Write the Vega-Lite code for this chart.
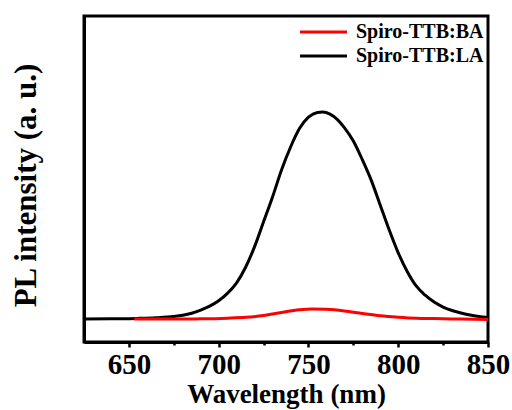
{
  "$schema": "https://vega.github.io/schema/vega-lite/v6.json",
  "width": 404,
  "height": 326,
  "autosize": {"type": "none"},
  "padding": {"left": 84, "top": 16, "right": 24, "bottom": 68},
  "background": "white",
  "config": {
    "view": {"stroke": "black", "strokeWidth": 3},
    "font": "Liberation Serif"
  },
  "resolve": {"axis": {"x": "independent"}},
  "data": {
    "values": [
      {"series": "Spiro-TTB:LA", "wl": 625, "v": 0},
      {"series": "Spiro-TTB:LA", "wl": 640, "v": 0.001},
      {"series": "Spiro-TTB:LA", "wl": 655, "v": 0.003},
      {"series": "Spiro-TTB:LA", "wl": 665, "v": 0.006},
      {"series": "Spiro-TTB:LA", "wl": 675, "v": 0.012},
      {"series": "Spiro-TTB:LA", "wl": 680, "v": 0.018},
      {"series": "Spiro-TTB:LA", "wl": 685, "v": 0.028},
      {"series": "Spiro-TTB:LA", "wl": 690, "v": 0.043},
      {"series": "Spiro-TTB:LA", "wl": 695, "v": 0.062},
      {"series": "Spiro-TTB:LA", "wl": 700, "v": 0.088},
      {"series": "Spiro-TTB:LA", "wl": 705, "v": 0.125},
      {"series": "Spiro-TTB:LA", "wl": 710, "v": 0.175},
      {"series": "Spiro-TTB:LA", "wl": 715, "v": 0.25},
      {"series": "Spiro-TTB:LA", "wl": 720, "v": 0.35},
      {"series": "Spiro-TTB:LA", "wl": 725, "v": 0.47},
      {"series": "Spiro-TTB:LA", "wl": 730, "v": 0.59},
      {"series": "Spiro-TTB:LA", "wl": 735, "v": 0.72},
      {"series": "Spiro-TTB:LA", "wl": 740, "v": 0.83},
      {"series": "Spiro-TTB:LA", "wl": 745, "v": 0.92},
      {"series": "Spiro-TTB:LA", "wl": 750, "v": 0.975},
      {"series": "Spiro-TTB:LA", "wl": 755, "v": 0.998},
      {"series": "Spiro-TTB:LA", "wl": 758, "v": 1.0},
      {"series": "Spiro-TTB:LA", "wl": 762, "v": 0.99},
      {"series": "Spiro-TTB:LA", "wl": 766, "v": 0.965},
      {"series": "Spiro-TTB:LA", "wl": 770, "v": 0.925},
      {"series": "Spiro-TTB:LA", "wl": 775, "v": 0.86},
      {"series": "Spiro-TTB:LA", "wl": 780, "v": 0.77},
      {"series": "Spiro-TTB:LA", "wl": 785, "v": 0.67},
      {"series": "Spiro-TTB:LA", "wl": 790, "v": 0.55},
      {"series": "Spiro-TTB:LA", "wl": 795, "v": 0.43},
      {"series": "Spiro-TTB:LA", "wl": 800, "v": 0.32},
      {"series": "Spiro-TTB:LA", "wl": 805, "v": 0.23},
      {"series": "Spiro-TTB:LA", "wl": 810, "v": 0.16},
      {"series": "Spiro-TTB:LA", "wl": 815, "v": 0.115},
      {"series": "Spiro-TTB:LA", "wl": 820, "v": 0.082},
      {"series": "Spiro-TTB:LA", "wl": 825, "v": 0.058},
      {"series": "Spiro-TTB:LA", "wl": 830, "v": 0.041},
      {"series": "Spiro-TTB:LA", "wl": 835, "v": 0.029},
      {"series": "Spiro-TTB:LA", "wl": 840, "v": 0.019},
      {"series": "Spiro-TTB:LA", "wl": 845, "v": 0.012},
      {"series": "Spiro-TTB:LA", "wl": 850, "v": 0.007},
      {"series": "Spiro-TTB:BA", "wl": 653, "v": 0.0},
      {"series": "Spiro-TTB:BA", "wl": 670, "v": 0.0},
      {"series": "Spiro-TTB:BA", "wl": 690, "v": 0.001},
      {"series": "Spiro-TTB:BA", "wl": 705, "v": 0.004},
      {"series": "Spiro-TTB:BA", "wl": 715, "v": 0.008},
      {"series": "Spiro-TTB:BA", "wl": 725, "v": 0.017},
      {"series": "Spiro-TTB:BA", "wl": 735, "v": 0.032},
      {"series": "Spiro-TTB:BA", "wl": 745, "v": 0.045},
      {"series": "Spiro-TTB:BA", "wl": 752, "v": 0.049},
      {"series": "Spiro-TTB:BA", "wl": 760, "v": 0.047},
      {"series": "Spiro-TTB:BA", "wl": 770, "v": 0.039},
      {"series": "Spiro-TTB:BA", "wl": 780, "v": 0.027},
      {"series": "Spiro-TTB:BA", "wl": 790, "v": 0.016},
      {"series": "Spiro-TTB:BA", "wl": 800, "v": 0.009},
      {"series": "Spiro-TTB:BA", "wl": 810, "v": 0.004},
      {"series": "Spiro-TTB:BA", "wl": 820, "v": 0.002},
      {"series": "Spiro-TTB:BA", "wl": 835, "v": 0.0},
      {"series": "Spiro-TTB:BA", "wl": 850, "v": -0.002}
    ]
  },
  "layer": [
    {
      "mark": {"type": "rule", "opacity": 0},
      "encoding": {
        "x": {
          "field": "wl", "type": "quantitative",
          "scale": {"domain": [625, 850], "nice": false, "zero": false},
          "axis": {
            "orient": "bottom",
            "values": [675, 725, 775, 825],
            "labels": false, "title": null, "grid": false, "domain": false,
            "ticks": true, "tickSize": 3, "tickWidth": 2.5, "tickColor": "black"
          }
        }
      }
    },
    {
      "mark": {"type": "line", "strokeWidth": 3, "interpolate": "monotone", "clip": true},
      "encoding": {
        "x": {
          "field": "wl", "type": "quantitative",
          "scale": {"domain": [625, 850], "nice": false, "zero": false},
          "axis": {
            "orient": "bottom",
            "values": [650, 700, 750, 800, 850],
            "title": "Wavelength (nm)",
            "grid": false,
            "domainColor": "black", "domainWidth": 3,
            "tickColor": "black", "tickWidth": 2.5, "tickSize": 5,
            "labelFont": "Liberation Serif", "labelFontWeight": "bold", "labelFontSize": 29,
            "labelColor": "black", "labelPadding": 3, "labelFlush": false, "labelOverlap": false,
            "titleFont": "Liberation Serif", "titleFontWeight": "bold", "titleFontSize": 27,
            "titleColor": "black", "titlePadding": 2
          }
        },
        "y": {
          "field": "v", "type": "quantitative",
          "scale": {"domain": [-0.111, 1.464], "nice": false, "zero": false},
          "axis": {
            "title": "PL intensity (a. u.)",
            "labels": false, "ticks": false, "grid": false,
            "domainColor": "black", "domainWidth": 3,
            "titleFont": "Liberation Serif", "titleFontWeight": "bold", "titleFontSize": 31,
            "titleColor": "black",
            "titleX": -42, "titleY": 169, "titleBaseline": "bottom", "titleAngle": 270
          }
        },
        "color": {
          "field": "series", "type": "nominal",
          "scale": {"domain": ["Spiro-TTB:BA", "Spiro-TTB:LA"], "range": ["#ff0000", "#000000"]},
          "legend": {
            "title": null,
            "orient": "none",
            "legendX": 248,
            "legendY": 6,
            "symbolType": "M-8.4,0H1",
            "symbolSize": 100,
            "symbolStrokeWidth": 3,
            "labelFont": "Liberation Serif",
            "labelFontWeight": "bold",
            "labelFontSize": 20,
            "labelColor": "black",
            "labelOffset": 4,
            "rowPadding": 4,
            "padding": 0
          }
        }
      }
    }
  ]
}
